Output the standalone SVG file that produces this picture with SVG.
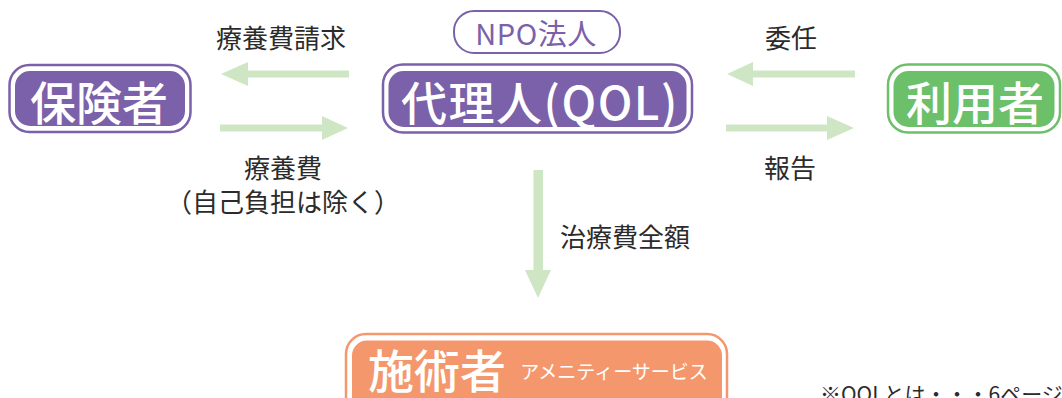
<svg xmlns="http://www.w3.org/2000/svg" width="1062" height="398" viewBox="0 0 1062 398">
<style>
.lbl{font-family:"Noto Sans CJK JP","Noto Sans",sans-serif;font-size:26px;fill:#2b2b2b;text-anchor:middle;dominant-baseline:central}
.big{font-family:"Noto Sans CJK JP","Noto Sans",sans-serif;font-size:46px;font-weight:500;fill:#fff;text-anchor:middle;dominant-baseline:central}
.arr{fill:#cfe6c5}
.pOut{fill:#fff;stroke:#7b61a9;stroke-width:2.5}
.pIn{fill:#7b61a9}
.gOut{fill:#fff;stroke:#6cc06a;stroke-width:2.5}
.gIn{fill:#6cc06a}
.oOut{fill:#fff;stroke:#f5976c;stroke-width:2.5}
.oIn{fill:#f5976c}
</style>
<rect width="1062" height="398" fill="#fff"/>
<g id="connectors">
<polygon class="arr" points="221,74 248,62 248,70.5 349,70.5 349,77.5 248,77.5 248,86"/>
<polygon class="arr" points="220,124.5 322,124.5 322,116 348,128 322,140 322,131.5 220,131.5"/>
<polygon class="arr" points="727,74 753,62 753,70.5 855,70.5 855,77.5 753,77.5 753,86"/>
<polygon class="arr" points="726,124.5 827,124.5 827,116 854,128 827,140 827,131.5 726,131.5"/>
<polygon class="arr" points="533.5,170 543,170 543,270 551,270 538,298 525,270 533.5,270"/>
<text class="lbl" x="281" y="36">療養費請求</text>
<text class="lbl" x="283" y="166">療養費</text>
<text class="lbl" x="283" y="200">（自己負担は除く）</text>
<text class="lbl" x="791" y="36">委任</text>
<text class="lbl" x="790" y="166">報告</text>
<text class="lbl" x="625" y="235">治療費全額</text>
</g>
<g id="hokensha">
<rect class="pOut" x="9.5" y="65" width="181" height="67" rx="20"/>
<rect class="pIn" x="15" y="71" width="170" height="55" rx="15"/>
<text class="big" x="99" y="100">保険者</text>
</g>
<g id="npo">
<rect x="454" y="11" width="166" height="42" rx="20" fill="#fff" stroke="#7b61a9" stroke-width="2"/>
<text x="536" y="32" font-family="'Noto Sans CJK JP','Noto Sans',sans-serif" font-size="29" fill="#7b61a9" text-anchor="middle" dominant-baseline="central" letter-spacing="0.5">NPO法人</text>
</g>
<g id="dairinin">
<rect class="pOut" x="383" y="64.5" width="309" height="68" rx="20"/>
<rect class="pIn" x="388.5" y="71" width="298" height="56" rx="15"/>
<text class="big" x="540" y="100" letter-spacing="1.5">代理人(QOL)</text>
</g>
<g id="riyousha">
<rect class="gOut" x="888" y="64.5" width="172" height="68" rx="20"/>
<rect class="gIn" x="893.5" y="71" width="161" height="56" rx="15"/>
<text class="big" x="975" y="100">利用者</text>
</g>
<g id="sejutsusha">
<rect class="oOut" x="346" y="334" width="381" height="90" rx="20"/>
<rect class="oIn" x="352" y="340.5" width="370" height="80" rx="15"/>
<text class="big" x="437" y="368">施術者</text>
<text x="614" y="370" font-family="'Noto Sans CJK JP','Noto Sans',sans-serif" font-size="19" fill="#fff" text-anchor="middle" dominant-baseline="central">アメニティーサービス</text>
</g>
<g id="note">
<text x="820" y="393" font-family="'Noto Sans CJK JP','Noto Sans',sans-serif" font-size="21" fill="#2b2b2b" dominant-baseline="central">※QOLとは・・・6ページ</text>
</g>
</svg>
